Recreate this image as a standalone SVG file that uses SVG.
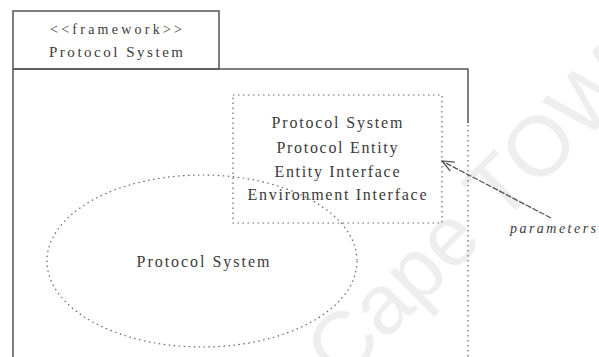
<svg xmlns="http://www.w3.org/2000/svg" width="599" height="357" viewBox="0 0 599 357">
<defs>
<style>
.t{font-family:"Liberation Serif","Times New Roman",serif;fill:#3a3a3a;text-anchor:middle}
.solid{fill:none;stroke:#555;stroke-width:1.5}
.dot{fill:none;stroke:#666;stroke-width:1.2;stroke-dasharray:1.5 3.5}
.wm{font-family:"Liberation Sans",Arial,sans-serif;fill:#eeeeee;font-size:85px}
</style>
<marker id="open" markerWidth="14" markerHeight="12" refX="13" refY="6" orient="auto" markerUnits="userSpaceOnUse">
<path d="M1,1 L13,6 L1,11" fill="none" stroke="#555" stroke-width="1.2"/>
</marker>
</defs>
<rect width="599" height="357" fill="#fff"/>
<text class="wm" transform="translate(341,385) rotate(-45)">Cape TOWN</text>
<g id="framework">
<rect class="solid" x="13" y="11" width="206" height="58"/>
<text class="t" x="116" y="34" font-size="14" textLength="132" lengthAdjust="spacing">&lt;&lt;framework&gt;&gt;</text>
<text class="t" x="116" y="57" font-size="15" textLength="134" lengthAdjust="spacing">Protocol System</text>
<path class="solid" d="M13,69 V360 M13,69 H468 V123"/>
<path class="dot" d="M468,125 V360"/>
</g>
<g id="parameters-box">
<rect class="dot" x="233" y="95" width="209" height="128"/>
<text class="t" x="337" y="128" font-size="16" textLength="131" lengthAdjust="spacing">Protocol System</text>
<text class="t" x="337" y="153" font-size="16" textLength="121" lengthAdjust="spacing">Protocol Entity</text>
<text class="t" x="337" y="177" font-size="16" textLength="125" lengthAdjust="spacing">Entity Interface</text>
<text class="t" x="337" y="200" font-size="16" textLength="179" lengthAdjust="spacing">Environment Interface</text>
</g>
<g id="protocol-system">
<ellipse class="dot" cx="202" cy="261" rx="155" ry="86"/>
<text class="t" x="203" y="267" font-size="16" textLength="133" lengthAdjust="spacing">Protocol System</text>
</g>
<g id="parameters-label">
<text x="553" y="233" font-family="Liberation Serif,serif" font-style="italic" font-size="14" fill="#3a3a3a" text-anchor="middle" textLength="86" lengthAdjust="spacing">parameters</text>
</g>
<g id="connectors">
<line x1="551" y1="218" x2="442" y2="161" stroke="#555" stroke-width="1.3" stroke-dasharray="6 1.5" marker-end="url(#open)"/>
</g>
</svg>
